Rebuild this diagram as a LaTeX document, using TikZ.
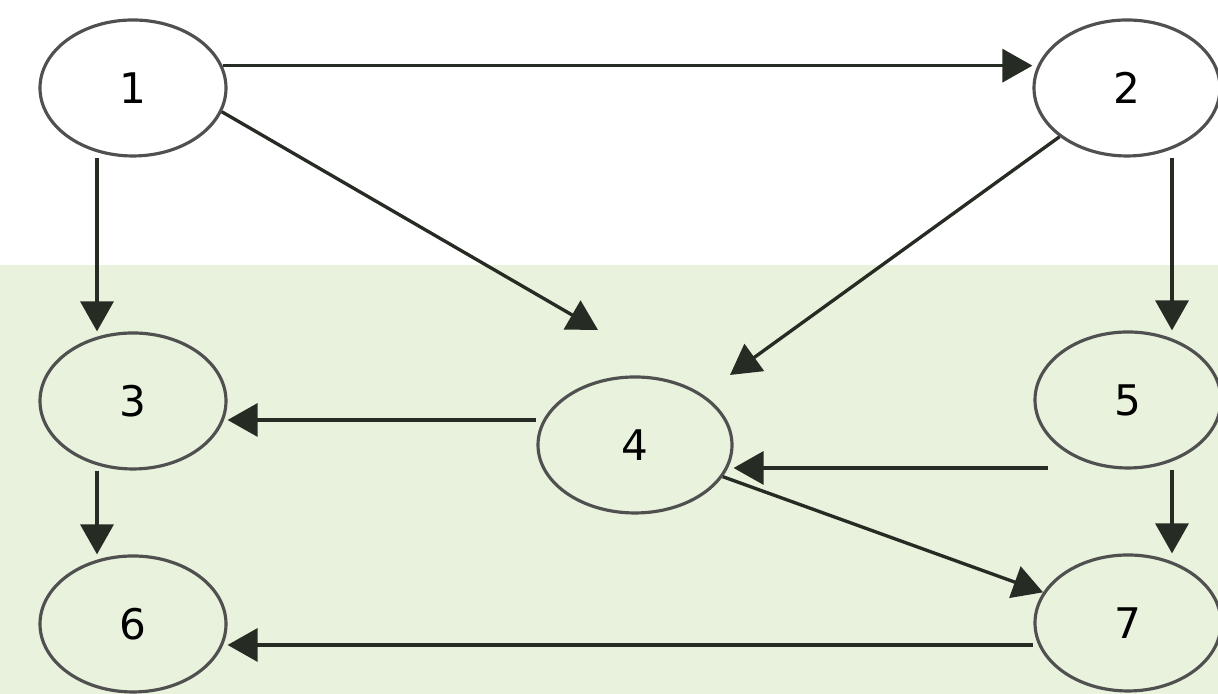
\documentclass[tikz,border=0pt]{standalone}
\usepackage{fontspec}
\setmainfont{DejaVu Sans}
\usetikzlibrary{arrows.meta,shapes.geometric}
\definecolor{bggreen}{HTML}{E8F2DC}
\definecolor{edgegray}{HTML}{505050}
\definecolor{linedark}{HTML}{262B24}

\begin{document}
\begin{tikzpicture}[
  state/.style={draw=edgegray,ellipse,line width=0.9pt,minimum width=1.86cm,minimum height=1.36cm,inner sep=0pt,font=\fontsize{12}{14}\selectfont},
  arrow/.style={-{Triangle[length=3mm,width=3.3mm]},line width=0.95pt,draw=linedark}
]
\useasboundingbox (0,0) rectangle (12.18,6.94);
\fill[bggreen] (0,0) rectangle (12.18,4.29);
% states
\node[state] (n1) at (1.33,6.06) {1};
\node[state] (n2) at (11.27,6.06) {2};
\node[state] (n3) at (1.33,2.93) {3};
\node[state,minimum width=1.94cm] (n4) at (6.35,2.49) {4};
\node[state] (n5) at (11.28,2.94) {5};
\node[state] (n6) at (1.33,0.70) {6};
\node[state] (n7) at (11.28,0.71) {7};
\coordinate (t14) at (5.98,3.64);
\coordinate (t24) at (7.30,3.19);
\coordinate (s54) at (10.48,2.26);
% transitions
\draw[arrow] (n1.14) -- (n1.14 -| n2.west);
\draw[arrow] ([xshift=-3.6mm]n1.south) -- ([xshift=-3.6mm]n3.north);
\draw[arrow] (n1.-15) -- (t14);
\draw[arrow] (n2) -- (t24);
\draw[arrow] ([xshift=4.5mm]n2.south) -- ([xshift=4.5mm]n2.south |- n5.north);
\draw[arrow] ([yshift=2.5mm]n4.west) -- ([yshift=2.5mm]n4.west -| n3.east);
\draw[arrow] (s54) -- (s54 -| n4.east);
\draw[arrow] (n4) -- (n7);
\draw[arrow] ([xshift=4.4mm]n5.south) -- ([xshift=4.4mm]n5.south |- n7.north);
\draw[arrow] ([xshift=-3.6mm]n3.south) -- ([xshift=-3.6mm]n6.north);
\draw[arrow] ([yshift=-2.2mm]n7.west) -- ([yshift=-2.2mm]n7.west -| n6.east);
\end{tikzpicture}
\end{document}
